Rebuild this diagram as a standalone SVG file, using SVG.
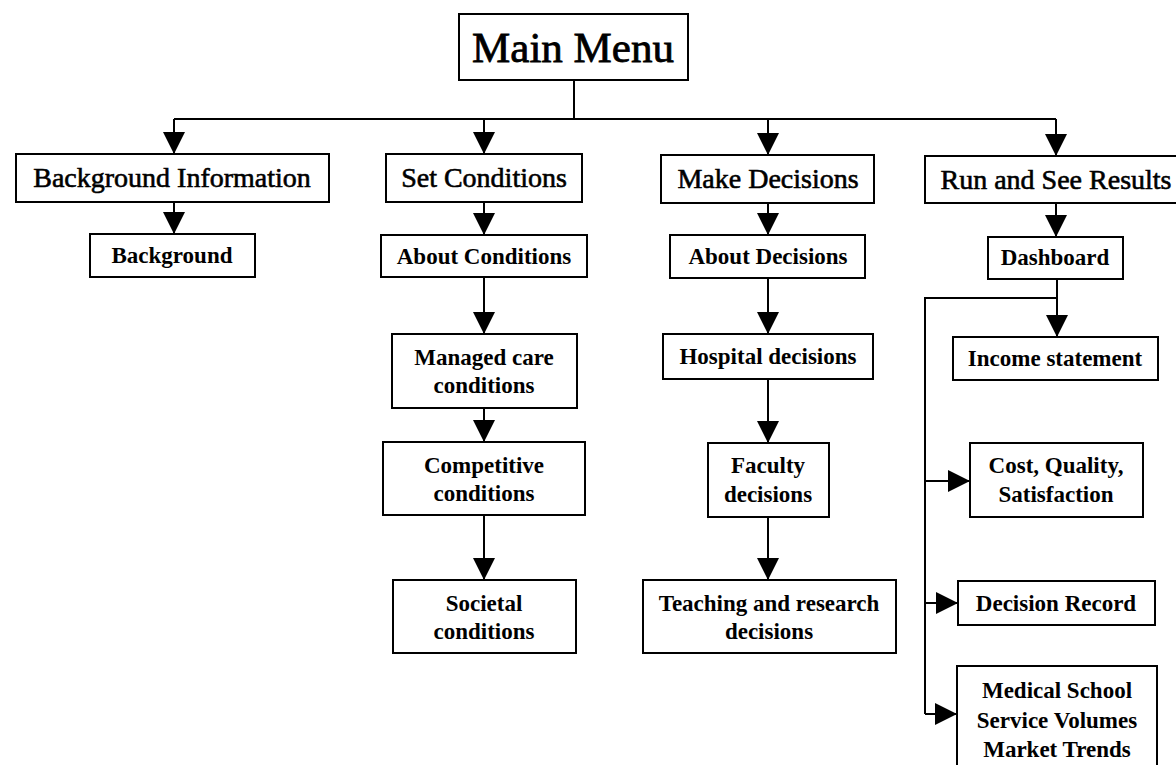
<svg xmlns="http://www.w3.org/2000/svg" width="1176" height="765" viewBox="0 0 1176 765">
<style>
.box{fill:#fff;stroke:#000;stroke-width:2}
.t1{font-family:"Liberation Serif","Times New Roman",serif;font-size:28px;text-anchor:middle;fill:#000;stroke:#000;stroke-width:0.6}
.t2{font-family:"Liberation Serif","Times New Roman",serif;font-size:23px;font-weight:bold;text-anchor:middle;fill:#000}
.tm{font-family:"Liberation Serif","Times New Roman",serif;font-size:43px;text-anchor:middle;fill:#000;stroke:#000;stroke-width:0.8}
.c{fill:none;stroke:#000;stroke-width:2}
</style>
<defs>
<marker id="ah" viewBox="0 0 22 22" refX="22" refY="11" markerWidth="22" markerHeight="22" markerUnits="userSpaceOnUse" orient="auto">
<path d="M0,0 L22,11 L0,22 z" fill="#000"/>
</marker>
</defs>
<rect width="1176" height="765" fill="#fff"/>
<g id="connectors">
<path class="c" d="M574,80 V119 M174,119 H1056"/>
<path class="c" d="M174,119 V154" marker-end="url(#ah)"/>
<path class="c" d="M484,119 V154" marker-end="url(#ah)"/>
<path class="c" d="M768,119 V155" marker-end="url(#ah)"/>
<path class="c" d="M1056,119 V156" marker-end="url(#ah)"/>
<path class="c" d="M174,202 V234" marker-end="url(#ah)"/>
<path class="c" d="M484,202 V235" marker-end="url(#ah)"/>
<path class="c" d="M768,203 V235" marker-end="url(#ah)"/>
<path class="c" d="M1056,203 V237" marker-end="url(#ah)"/>
<path class="c" d="M484,277 V334" marker-end="url(#ah)"/>
<path class="c" d="M484,408 V442" marker-end="url(#ah)"/>
<path class="c" d="M484,515 V580" marker-end="url(#ah)"/>
<path class="c" d="M768,278 V334" marker-end="url(#ah)"/>
<path class="c" d="M768,379 V443" marker-end="url(#ah)"/>
<path class="c" d="M768,517 V580" marker-end="url(#ah)"/>
<path class="c" d="M1057,279 V337" marker-end="url(#ah)"/>
<path class="c" d="M1057,298 H925 V714"/>
<path class="c" d="M925,481 H970" marker-end="url(#ah)"/>
<path class="c" d="M925,603 H958" marker-end="url(#ah)"/>
<path class="c" d="M925,714 H957" marker-end="url(#ah)"/>
</g>
<g id="main-menu"><rect class="box" x="459" y="14" width="229" height="66"/><text class="tm" x="573" y="62">Main Menu</text></g>
<g id="background-information"><rect class="box" x="16" y="154" width="313" height="48"/><text class="t1" x="172" y="187">Background Information</text></g>
<g id="set-conditions"><rect class="box" x="386" y="154" width="196" height="48"/><text class="t1" x="484" y="187">Set Conditions</text></g>
<g id="make-decisions"><rect class="box" x="661" y="155" width="213" height="48"/><text class="t1" x="768" y="188">Make Decisions</text></g>
<g id="run-and-see-results"><rect class="box" x="925" y="156" width="263" height="47"/><text class="t1" x="1056" y="189">Run and See Results</text></g>
<g id="background"><rect class="box" x="90" y="234" width="165" height="43"/><text class="t2" x="172" y="263">Background</text></g>
<g id="about-conditions"><rect class="box" x="381" y="235" width="206" height="42"/><text class="t2" x="484" y="264">About Conditions</text></g>
<g id="about-decisions"><rect class="box" x="670" y="235" width="195" height="43"/><text class="t2" x="768" y="264">About Decisions</text></g>
<g id="dashboard"><rect class="box" x="988" y="237" width="135" height="42"/><text class="t2" x="1055" y="265">Dashboard</text></g>
<g id="managed-care-conditions"><rect class="box" x="392" y="334" width="185" height="74"/><text class="t2" x="484" y="365">Managed care</text><text class="t2" x="484" y="393">conditions</text></g>
<g id="competitive-conditions"><rect class="box" x="383" y="442" width="202" height="73"/><text class="t2" x="484" y="473">Competitive</text><text class="t2" x="484" y="501">conditions</text></g>
<g id="societal-conditions"><rect class="box" x="393" y="580" width="183" height="73"/><text class="t2" x="484" y="611">Societal</text><text class="t2" x="484" y="639">conditions</text></g>
<g id="hospital-decisions"><rect class="box" x="663" y="334" width="210" height="45"/><text class="t2" x="768" y="364">Hospital decisions</text></g>
<g id="faculty-decisions"><rect class="box" x="708" y="443" width="121" height="74"/><text class="t2" x="768" y="473">Faculty</text><text class="t2" x="768" y="502">decisions</text></g>
<g id="teaching-and-research-decisions"><rect class="box" x="643" y="580" width="253" height="73"/><text class="t2" x="769" y="611">Teaching and research</text><text class="t2" x="769" y="639">decisions</text></g>
<g id="income-statement"><rect class="box" x="953" y="337" width="205" height="43"/><text class="t2" x="1055" y="366">Income statement</text></g>
<g id="cost-quality-satisfaction"><rect class="box" x="970" y="443" width="173" height="74"/><text class="t2" x="1056" y="473">Cost, Quality,</text><text class="t2" x="1056" y="502">Satisfaction</text></g>
<g id="decision-record"><rect class="box" x="958" y="581" width="197" height="44"/><text class="t2" x="1056" y="611">Decision Record</text></g>
<g id="medical-school"><rect class="box" x="957" y="666" width="200" height="120"/><text class="t2" x="1057" y="698">Medical School</text><text class="t2" x="1057" y="728">Service Volumes</text><text class="t2" x="1057" y="757">Market Trends</text></g>
</svg>
